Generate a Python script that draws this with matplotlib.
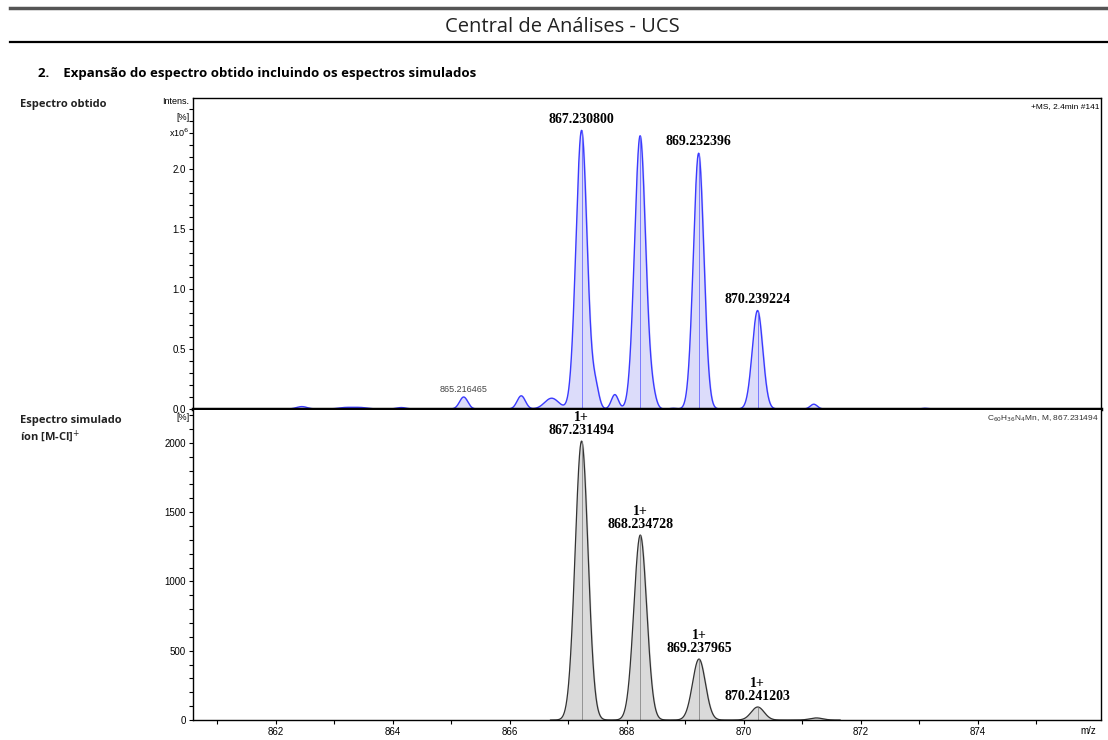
import matplotlib
matplotlib.use("Agg")
import matplotlib.pyplot as plt
import numpy as np

# obtained spectrum (intensity in units of 1e6)
obt_mz = [862.45, 863.2, 863.45, 864.15, 865.216, 866.2, 866.72, 867.231, 867.47,
          867.8, 868.232, 868.45, 868.8, 869.232, 870.239, 871.2, 873.1]
obt_int = [0.02, 0.012, 0.012, 0.012, 0.10, 0.11, 0.09, 2.32, 0.17,
           0.12, 2.275, 0.09, 0.006, 2.13, 0.82, 0.04, 0.006]
obt_width = [0.09, 0.12, 0.12, 0.08, 0.07, 0.07, 0.12, 0.095, 0.06,
             0.06, 0.095, 0.06, 0.05, 0.09, 0.09, 0.06, 0.05]
obt_labels = ["867.230800", "869.232396", "870.239224"]
obt_label_mz = [867.231, 869.232, 870.239]
obt_label_int = [2.32, 2.13, 0.82]

# simulated isotope pattern
sim_mz = [867.231494, 868.234728, 869.237965, 870.241203, 871.2444]
sim_int = [2013, 1335, 440, 94, 15]
sim_width = [0.11, 0.11, 0.11, 0.11, 0.11]
sim_labels = ["867.231494", "868.234728", "869.237965", "870.241203"]

x_ticks = [862, 864, 866, 868, 870, 872, 874]
xmin, xmax = 860.59, 876.11


def profile(x, centers, heights, widths):
    y = np.zeros_like(x)
    for c, h, w in zip(centers, heights, widths):
        y += h * np.exp(-0.5 * ((x - c) / w) ** 2)
    return y


fig = plt.figure(figsize=(11.08, 7.4), dpi=100)

# page header
fig.add_artist(plt.Line2D([0.009, 1.0], [0.989, 0.989], color="#555555", lw=2.5))
fig.text(0.508, 0.963, "Central de Análises - UCS", family="Open Sans",
         fontsize=14.5, ha="center", va="center", color="#222222")
fig.add_artist(plt.Line2D([0.009, 1.0], [0.943, 0.943], color="black", lw=1.6))
fig.text(0.034, 0.901, "2.    Expansão do espectro obtido incluindo os espectros simulados",
         family="Open Sans", fontsize=9.5, fontweight="bold", ha="left", va="center")
fig.text(0.018, 0.859, "Espectro obtido", family="Open Sans", fontsize=8,
         fontweight="bold", ha="left", va="center", color="#222222")
fig.text(0.018, 0.432, "Espectro simulado", family="Open Sans", fontsize=8,
         fontweight="bold", ha="left", va="center", color="#222222")
fig.text(0.018, 0.411, "íon [M-Cl]$^{+}$", family="Open Sans", fontsize=8,
         fontweight="bold", ha="left", va="center", color="#222222")

ax1 = fig.add_axes([0.1742, 0.4473, 0.8195, 0.4203])
ax2 = fig.add_axes([0.1742, 0.0270, 0.8195, 0.4189])

tick_font = dict(family="Liberation Sans", fontsize=7)

# top: obtained spectrum
x = np.linspace(xmin, xmax, 4000)
y1 = profile(x, obt_mz, obt_int, obt_width)
ax1.fill_between(x, y1, color="#dcdcfa")
ax1.plot(x, y1, color="#3a3aff", lw=1.0)
for c, h in zip(obt_mz[7:15], obt_int[7:15]):
    if h > 0.5:
        ax1.vlines(c, 0, h, color="#6a6aff", lw=0.6)
for lab, c, h in zip(obt_labels, obt_label_mz, obt_label_int):
    ax1.text(c, h + 0.04, lab, family="Liberation Serif", fontweight="bold",
             fontsize=10, ha="center", va="bottom")
ax1.text(865.216, 0.125, "865.216465", family="Liberation Sans", fontsize=6.5,
         ha="center", va="bottom", color="#444444")
ax1.text(0.998, 0.985, "+MS, 2.4min #141", transform=ax1.transAxes,
         family="Liberation Sans", fontsize=6, ha="right", va="top")
ax1.set_xlim(xmin, xmax)
ax1.set_ylim(0, 2.59)
ax1.set_yticks([0.0, 0.5, 1.0, 1.5, 2.0])
ax1.set_yticklabels(["0.0", "0.5", "1.0", "1.5", "2.0"], **tick_font)
ax1.set_yticks(np.arange(0, 2.59, 0.1), minor=True)
ax1.set_xticks([])
ax1.tick_params(axis="y", which="both", direction="out", length=3, width=0.8, pad=2)
ax1.spines["bottom"].set_linewidth(2.5)
for s in ["top", "left", "right"]:
    ax1.spines[s].set_linewidth(1.0)
ax1.text(-0.004, 0.988, "Intens.", transform=ax1.transAxes, family="Liberation Sans",
         fontsize=6.5, ha="right", va="center")
ax1.text(-0.004, 0.938, "[%]", transform=ax1.transAxes, family="Liberation Sans",
         fontsize=6.5, ha="right", va="center")
ax1.text(-0.004, 0.888, "x10$^6$", transform=ax1.transAxes, family="Liberation Sans",
         fontsize=6.5, ha="right", va="center")

# bottom: simulated spectrum
x2 = np.linspace(866.7, 871.65, 2000)
y2 = profile(x2, sim_mz, sim_int, sim_width)
ax2.fill_between(x2, y2, color="#dadada")
ax2.plot(x2, y2, color="#333333", lw=0.9)
ax2.vlines(sim_mz[:4], 0, sim_int[:4], color="#888888", lw=0.6)
for lab, c, h in zip(sim_labels, sim_mz, sim_int):
    ax2.text(c, h + 30, "1+\n" + lab, family="Liberation Serif", fontweight="bold",
             fontsize=10, ha="center", va="bottom", linespacing=1.0)
ax2.text(0.998, 0.99, "C$_{60}$H$_{36}$N$_4$Mn, M, 867.231494", transform=ax2.transAxes,
         family="Liberation Sans", fontsize=6, ha="right", va="top", color="#333333")
ax2.set_xlim(xmin, xmax)
ax2.set_ylim(0, 2237)
ax2.set_yticks([0, 500, 1000, 1500, 2000])
ax2.set_yticklabels(["0", "500", "1000", "1500", "2000"], **tick_font)
ax2.set_yticks(np.arange(0, 2237, 100), minor=True)
ax2.set_xticks(x_ticks)
ax2.set_xticklabels([str(t) for t in x_ticks], **tick_font)
ax2.set_xticks(np.arange(861, 876, 2), minor=True)
ax2.tick_params(axis="both", which="both", direction="out", length=3, width=0.8, pad=2)
ax2.spines["top"].set_visible(False)
for s in ["bottom", "left", "right"]:
    ax2.spines[s].set_linewidth(1.0)
ax2.text(-0.004, 0.975, "[%]", transform=ax2.transAxes, family="Liberation Sans",
         fontsize=6.5, ha="right", va="center")
ax2.text(0.995, -0.018, "m/z", transform=ax2.transAxes, family="Liberation Sans",
         fontsize=7, ha="right", va="top")

fig.savefig("out.png", dpi=100)
